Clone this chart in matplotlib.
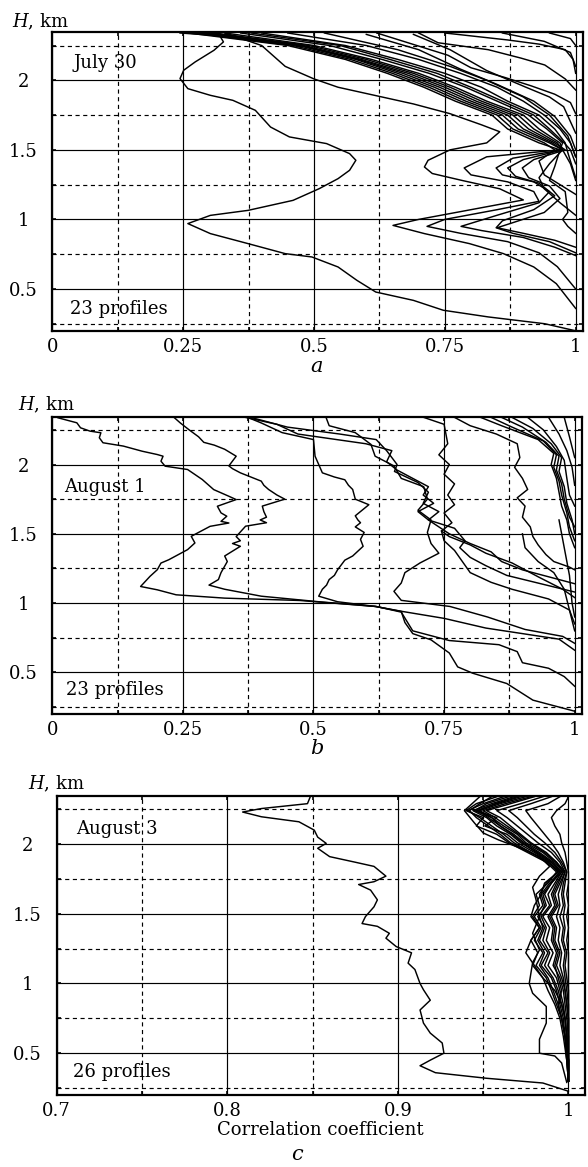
import matplotlib
matplotlib.use("Agg")
import matplotlib.pyplot as plt
import numpy as np

plt.rcParams['font.family'] = ['DejaVu Serif']
plt.rcParams['mathtext.fontset'] = 'custom'
plt.rcParams['mathtext.it'] = 'DejaVu Serif:italic'
plt.rcParams['mathtext.rm'] = 'DejaVu Serif'

# ---------------- Panel a: July 30 (x, H) point lists ----------------
a_x = [
    [.244,.32,.327,.309,.273,.251,.244,.259,.302,.345,.388,.417,.453,.524,.568,.580,.568,.546,.510,.460,.374,.302,.259,.302,.374,.445,.496,.546,.582,.618,.690,.747,.833,.941,.999],
    [0.33,0.40,0.445,0.50,0.546,0.618,0.69,0.76,0.82,0.855,0.83,0.76,0.718,0.711,0.726,0.783,0.855,0.90,0.80,0.70,0.651,0.711,0.797,0.862,0.92,0.963,1.0],
    [0.26,0.45,0.56,0.64,0.71,0.77,0.84,0.87,0.93,0.97,0.83,0.787,0.80,0.87,0.92,0.93,0.85,0.75,0.716,0.78,0.87,0.93,0.965,1.0],
    [0.28,0.47,0.58,0.66,0.73,0.79,0.86,0.89,0.95,0.975,0.88,0.848,0.86,0.92,0.95,0.93,0.85,0.781,0.82,0.90,0.96,1.0],
    [0.30,0.48,0.59,0.68,0.75,0.81,0.88,0.91,0.96,0.98,0.92,0.898,0.91,0.95,0.97,0.94,0.85,0.90,0.96,1.0],
    [0.33,0.50,0.61,0.70,0.77,0.83,0.90,0.93,0.97,0.975,0.95,0.93,0.94,0.97,1.0],
    [0.36,0.53,0.63,0.72,0.79,0.85,0.91,0.945,0.975,0.97,0.96,0.95,0.98,0.985,0.975,0.985,1.0],
    [0.40,0.56,0.66,0.75,0.82,0.87,0.93,0.96,0.98,0.985,1.0],
    [0.45,0.60,0.70,0.78,0.85,0.90,0.94,0.97,0.99,1.0],
    [0.27,0.46,0.57,0.65,0.72,0.78,0.85,0.88,0.94,0.96,0.93,0.94,0.97,1.0],
    [0.31,0.49,0.60,0.69,0.76,0.82,0.89,0.92,0.965,0.975,0.99,1.0],
    [0.38,0.55,0.645,0.735,0.80,0.86,0.92,0.95,0.978,0.99,1.0],
    [0.29,0.475,0.585,0.67,0.74,0.80,0.87,0.90,0.955,0.975,0.90,0.87,0.885,0.93,0.96,0.92,0.86,0.848,0.88,0.95,1.0],
    [0.75,0.87,0.93,0.98,0.995,1.0],
    [0.70,0.737,0.833,0.895,0.941,0.98,1.0],
    [0.62,0.756,0.80,0.865,0.915,0.96,0.99,1.0],
    [0.69,0.76,0.83,0.905,0.95,0.977,1.0],
    [0.60,0.70,0.78,0.85,0.92,0.96,0.99,1.0],
    [0.52,0.66,0.76,0.83,0.90,0.95,0.985,1.0],
    [0.86,0.94,0.99,1.0],
    [0.95,0.99,1.0],
]
a_H = [
    [2.34,2.32,2.276,2.216,2.132,2.072,2.012,1.94,1.892,1.856,1.784,1.664,1.593,1.545,1.473,1.425,1.353,1.293,1.221,1.137,1.065,1.029,0.970,0.898,0.826,0.754,0.730,0.658,0.562,0.478,0.418,0.347,0.299,0.25,0.2],
    [2.34,2.25,2.10,2.01,1.95,1.89,1.83,1.76,1.68,1.63,1.55,1.50,1.425,1.377,1.33,1.28,1.22,1.14,1.07,1.0,0.957,0.898,0.826,0.754,0.658,0.538,0.36],
    [2.34,2.25,2.15,2.05,1.95,1.85,1.75,1.65,1.55,1.50,1.45,1.37,1.32,1.27,1.20,1.13,1.07,1.0,0.95,0.90,0.84,0.76,0.66,0.50],
    [2.34,2.25,2.15,2.05,1.95,1.85,1.75,1.65,1.55,1.50,1.44,1.37,1.32,1.27,1.20,1.12,1.03,0.95,0.92,0.87,0.80,0.74],
    [2.34,2.25,2.15,2.05,1.95,1.85,1.75,1.65,1.55,1.50,1.43,1.37,1.30,1.24,1.15,1.05,0.94,0.90,0.85,0.80],
    [2.34,2.25,2.15,2.05,1.95,1.85,1.75,1.65,1.55,1.50,1.40,1.30,1.22,1.12,1.03],
    [2.34,2.25,2.15,2.05,1.95,1.85,1.75,1.65,1.55,1.50,1.38,1.28,1.20,1.05,1.0,0.95,0.90],
    [2.34,2.25,2.15,2.05,1.95,1.85,1.75,1.65,1.55,1.48,1.30],
    [2.34,2.25,2.15,2.05,1.95,1.85,1.75,1.65,1.55,1.45],
    [2.34,2.25,2.15,2.05,1.95,1.85,1.75,1.65,1.55,1.50,1.42,1.32,1.25,1.18],
    [2.34,2.25,2.15,2.05,1.95,1.85,1.75,1.65,1.55,1.50,1.40,1.28],
    [2.34,2.25,2.15,2.05,1.95,1.85,1.75,1.65,1.55,1.50,1.40],
    [2.34,2.25,2.15,2.05,1.95,1.85,1.75,1.65,1.55,1.50,1.43,1.37,1.31,1.26,1.17,1.07,0.99,0.94,0.90,0.84,0.76],
    [2.34,2.29,2.26,2.22,2.15,2.05],
    [2.34,2.27,2.22,2.16,2.11,2.01,1.93],
    [2.34,2.18,2.09,2.02,1.96,1.90,1.84,1.76],
    [2.33,2.22,2.07,1.95,1.88,1.81,1.62],
    [2.33,2.22,2.08,1.97,1.85,1.74,1.60,1.50],
    [2.34,2.22,2.10,2.00,1.88,1.75,1.60,1.45],
    [2.34,2.28,2.20,2.10],
    [2.34,2.30,2.25],
]

# ---------------- Panel b: August 1 ----------------
b_x = [
    [0.011,0.047,0.054,0.072,0.093,0.090,0.097,0.136,0.172,0.201,0.212,0.208,0.216,0.259,0.287,0.309,0.338,0.352,0.316,0.323,0.334,0.323,0.338,0.302,0.266,0.273,0.259,0.223,0.208,0.201,0.187,0.169,0.201,0.237,0.330,0.474,0.618,0.668,0.675,0.69,0.725,0.76,0.776,0.805,0.87,0.92,1.0],
    [0.233,0.245,0.262,0.28,0.29,0.31,0.33,0.352,0.338,0.345,0.36,0.40,0.405,0.414,0.43,0.445,0.402,0.405,0.41,0.398,0.41,0.37,0.352,0.36,0.345,0.36,0.33,0.335,0.323,0.318,0.30,0.33,0.40,0.51,0.62,0.668,0.69,0.76,0.855,0.89,0.90,0.95,0.98,1.0],
    [0.374,0.40,0.44,0.50,0.503,0.51,0.517,0.54,0.56,0.567,0.575,0.58,0.606,0.58,0.585,0.59,0.58,0.597,0.59,0.595,0.575,0.56,0.546,0.54,0.53,0.525,0.517,0.51,0.546,0.62,0.67,0.75,0.83,0.97,1.0],
    [0.524,0.53,0.58,0.61,0.618,0.654,0.668,0.711,0.718,0.70,0.725,0.718,0.725,0.74,0.704,0.675,0.668,0.654,0.668,0.761,0.833,0.905,0.977,1.0],
    [0.711,0.75,0.757,0.74,0.76,0.75,0.77,0.757,0.77,0.75,0.765,0.745,0.76,0.80,0.83,0.88,0.93,0.977,1.0],
    [0.37,0.43,0.47,0.60,0.65,0.64,0.66,0.69,0.72,0.71,0.73,0.70,0.72,0.74,0.76,0.80,0.84,0.86,0.90,0.96,1.0],
    [0.38,0.45,0.55,0.62,0.64,0.66,0.655,0.70,0.72,0.71,0.74,0.72,0.77,0.79,0.78,0.80,0.83,0.87,1.0],
    [0.77,0.80,0.85,0.89,0.895,0.885,0.90,0.91,0.89,0.905,0.90,0.915,0.92,0.93,0.945,0.96,0.99,1.0],
    [0.82,0.86,0.93,0.96,0.955,0.965,0.97,0.975,0.985,0.99,1.0],
    [0.84,0.88,0.94,0.965,0.96,0.97,0.975,0.985,0.99,1.0],
    [0.86,0.90,0.945,0.97,0.965,0.975,0.98,0.99,1.0],
    [0.88,0.92,0.955,0.975,0.97,0.98,0.985,0.995,1.0],
    [0.91,0.94,0.965,0.98,0.985,0.99,1.0],
    [0.95,0.97,0.985,0.995,1.0],
    [0.98,0.99,1.0],
    [0.745,0.75,0.77,0.785,0.80,0.84,0.88,0.95,0.99,1.0],
    [0.90,0.905,0.93,0.96,0.98,0.99,1.0],
    [0.97,0.98,0.99,0.995,1.0],
]
b_H = [
    [2.337,2.301,2.265,2.241,2.229,2.193,2.157,2.133,2.096,2.072,2.060,2.024,1.988,1.964,1.892,1.819,1.771,1.747,1.699,1.651,1.627,1.590,1.578,1.554,1.482,1.434,1.386,1.313,1.289,1.241,1.193,1.120,1.096,1.060,1.036,1.019,0.976,0.94,0.86,0.78,0.735,0.64,0.54,0.494,0.42,0.30,0.22],
    [2.34,2.30,2.25,2.20,2.16,2.14,2.11,2.06,1.99,1.97,1.94,1.88,1.85,1.82,1.78,1.75,1.70,1.66,1.62,1.60,1.58,1.555,1.48,1.45,1.43,1.41,1.34,1.30,1.22,1.17,1.13,1.10,1.05,1.01,0.976,0.935,0.80,0.73,0.70,0.65,0.57,0.53,0.47,0.40],
    [2.34,2.30,2.23,2.18,2.06,2.00,1.94,1.91,1.89,1.85,1.82,1.75,1.71,1.63,1.60,1.58,1.55,1.51,1.46,1.41,1.34,1.31,1.24,1.20,1.17,1.13,1.10,1.05,1.01,0.975,0.94,0.89,0.82,0.74,0.66],
    [2.34,2.28,2.23,2.145,2.06,1.99,1.90,1.84,1.75,1.67,1.60,1.51,1.43,1.36,1.29,1.22,1.145,1.085,1.02,0.976,0.90,0.81,0.76,0.71],
    [2.34,2.29,2.15,2.07,2.0,1.93,1.86,1.78,1.71,1.65,1.58,1.52,1.48,1.42,1.36,1.29,1.19,1.10,1.04],
    [2.34,2.29,2.22,2.15,2.10,2.02,1.96,1.90,1.84,1.78,1.72,1.66,1.60,1.55,1.50,1.43,1.37,1.30,1.24,1.18,1.14],
    [2.34,2.27,2.22,2.18,2.10,2.0,1.95,1.87,1.80,1.72,1.66,1.60,1.54,1.45,1.40,1.33,1.27,1.20,1.08],
    [2.34,2.28,2.22,2.15,2.05,1.98,1.90,1.82,1.76,1.70,1.62,1.55,1.48,1.42,1.35,1.30,1.26,1.24],
    [2.34,2.28,2.18,2.08,2.0,1.90,1.80,1.70,1.60,1.50,1.40],
    [2.34,2.27,2.17,2.07,1.98,1.88,1.78,1.65,1.55,1.45],
    [2.34,2.27,2.16,2.06,1.96,1.86,1.75,1.62,1.55],
    [2.34,2.26,2.15,2.05,1.95,1.84,1.72,1.60,1.50],
    [2.34,2.25,2.13,2.03,1.90,1.78,1.70],
    [2.34,2.22,2.10,1.98,1.85],
    [2.34,2.20,2.05],
    [1.52,1.45,1.38,1.30,1.22,1.15,1.10,1.03,0.95,0.85],
    [1.50,1.40,1.30,1.22,1.10,0.95,0.80],
    [1.60,1.40,1.20,1.00,0.90],
]

# ---------------- Panel c: August 3 ----------------
c_x = [
    [0.849,0.847,0.82,0.809,0.82,0.842,0.851,0.853,0.858,0.853,0.86,0.875,0.886,0.893,0.886,0.877,0.884,0.888,0.886,0.881,0.879,0.888,0.895,0.893,0.899,0.908,0.906,0.910,0.913,0.915,0.919,0.913,0.915,0.919,0.926,0.927,0.919,0.913,0.922,0.952,0.985,1.0],
    [0.948,0.939,0.945,0.95,0.959,0.97,0.983,0.989,0.983,0.979,0.981,0.983,0.979,0.983,0.979,0.977,0.979,0.987,0.987,0.983,0.983,0.992,0.996,0.999],
]
c_H = [
    [2.35,2.29,2.255,2.23,2.196,2.16,2.10,2.05,2.005,1.97,1.91,1.87,1.84,1.77,1.73,1.71,1.67,1.60,1.55,1.48,1.43,1.41,1.36,1.325,1.265,1.22,1.146,1.10,1.00,0.955,0.88,0.81,0.716,0.644,0.573,0.50,0.45,0.41,0.36,0.32,0.286,0.227],
    [2.34,2.24,2.15,2.08,2.03,1.98,1.91,1.84,1.77,1.69,1.60,1.48,1.36,1.24,1.15,1.0,0.93,0.835,0.716,0.60,0.50,0.48,0.43,0.29],
]
c_bundle_H = [2.34,2.29,2.24,2.19,2.13,2.07,2.01,1.94,1.87,1.80,1.72,1.64,1.56,1.48,1.40,1.31,1.22,1.13,1.04,0.95,0.85,0.75,0.62,0.45,0.30]
c_bundle_x = [
    [0.962,0.950,0.941,0.948,0.955,0.962,0.968,0.978,0.988,0.995,0.990,0.985,0.987,0.982,0.986,0.983,0.988,0.984,0.990,0.993,0.995,0.997,0.998,0.999,1.0],
    [0.968,0.955,0.944,0.952,0.958,0.966,0.972,0.982,0.990,0.996,0.992,0.988,0.990,0.985,0.989,0.987,0.991,0.988,0.993,0.995,0.997,0.998,0.999,1.0,1.0],
    [0.975,0.960,0.948,0.955,0.962,0.970,0.975,0.985,0.992,0.997,0.993,0.990,0.992,0.988,0.991,0.990,0.993,0.991,0.995,0.997,0.998,0.999,1.0,1.0,1.0],
    [0.972,0.958,0.946,0.958,0.951,0.964,0.970,0.980,0.989,0.994,0.987,0.983,0.985,0.980,0.984,0.980,0.985,0.981,0.987,0.990,0.993,0.996,0.998,1.0,1.0],
    [0.980,0.966,0.952,0.960,0.966,0.972,0.978,0.987,0.993,0.998,0.995,0.992,0.994,0.990,0.993,0.992,0.995,0.993,0.996,0.998,0.999,1.0,1.0,1.0,1.0],
    [0.958,0.946,0.940,0.950,0.946,0.958,0.965,0.976,0.987,0.993,0.988,0.981,0.983,0.979,0.983,0.978,0.982,0.979,0.985,0.988,0.992,0.995,0.997,0.999,1.0],
    [0.985,0.972,0.958,0.964,0.970,0.976,0.982,0.990,0.995,0.998,0.996,0.994,0.995,0.993,0.995,0.994,0.996,0.995,0.997,0.998,0.999,1.0,1.0,1.0,1.0],
    [0.965,0.952,0.945,0.955,0.960,0.968,0.974,0.983,0.991,0.996,0.990,0.986,0.989,0.984,0.987,0.985,0.989,0.986,0.991,0.994,0.996,0.998,0.999,1.0,1.0],
    [0.990,0.978,0.965,0.970,0.975,0.980,0.986,0.992,0.996,0.999,0.997,0.996,0.997,0.995,0.997,0.996,0.998,0.997,0.998,0.999,1.0,1.0,1.0,1.0,1.0],
    [0.955,0.948,0.942,0.946,0.953,0.960,0.966,0.978,0.988,0.994,0.986,0.984,0.986,0.983,0.985,0.982,0.986,0.983,0.988,0.991,0.994,0.996,0.998,0.999,1.0],
    [0.995,0.988,0.975,0.978,0.982,0.986,0.990,0.994,0.997,0.999,0.998,0.997,0.998,0.997,0.998,0.997,0.999,0.998,0.999,1.0,1.0,1.0,1.0,1.0,1.0],
    [0.970,0.957,0.947,0.953,0.960,0.967,0.973,0.981,0.990,0.995,0.989,0.984,0.980,0.978,0.983,0.978,0.975,0.980,0.985,0.992,0.996,0.998,0.999,1.0,1.0],
    [1.0,0.998,0.993,0.990,0.992,0.995,0.996,0.998,0.999,1.0,1.0,0.999,1.0,0.999,1.0,0.999,1.0,1.0,1.0,1.0,1.0,1.0,1.0,1.0,1.0],
    [0.978,0.963,0.950,0.957,0.964,0.971,0.977,0.986,0.993,0.997,0.994,0.991,0.993,0.989,0.992,0.991,0.994,0.992,0.994,0.996,0.994,0.996,0.998,1.0,1.0],
]

panel_titles = ["July 30", "August 1", "August 3"]
panel_counts = ["23 profiles", "23 profiles", "26 profiles"]

W, Hpx = 588, 1167
fig = plt.figure(figsize=(W/100, Hpx/100), dpi=100)

def fx(px):
    return px / W
def fy(py):
    return 1 - py / Hpx

boxes = [(52.3, 583, 32.3, 330.7), (52.3, 582, 416.7, 714), (56.7, 585, 796, 1095)]
axes = []
for (l, r, t, b) in boxes:
    axes.append(fig.add_axes([fx(l), fy(b), (r - l)/W, (b - t)/Hpx]))

FS = 13

def style(ax, xlim, xmaj, xmin, xlabels):
    ax.set_xlim(*xlim)
    ax.set_ylim(0.2, 2.345)
    ax.set_xticks(xmaj)
    ax.set_xticklabels(xlabels)
    ax.set_xticks(xmin, minor=True)
    ax.set_yticks([0.5, 1, 1.5, 2])
    ax.set_yticklabels(["0.5", "1", "1.5", "2"])
    ax.set_yticks([0.25, 0.75, 1.25, 1.75, 2.25], minor=True)
    ax.grid(which='major', color='k', lw=0.85, ls='-')
    ax.grid(which='minor', color='k', lw=0.85, ls=(0, (3.5, 3)))
    ax.set_axisbelow(True)
    ax.tick_params(which='both', direction='in', length=3, width=1.2,
                   top=True, right=True, labelsize=FS)
    ax.tick_params(axis='x', which='major', pad=5)
    ax.tick_params(axis='y', which='major', pad=21)
    for lab in ax.get_yticklabels():
        lab.set_horizontalalignment('center')
    for s in ax.spines.values():
        s.set_linewidth(1.6)

style(axes[0], (0, 1.014), [0, 0.25, 0.5, 0.75, 1], [0.125, 0.375, 0.625, 0.875],
      ["0", "0.25", "0.5", "0.75", "1"])
style(axes[1], (0, 1.014), [0, 0.25, 0.5, 0.75, 1], [0.125, 0.375, 0.625, 0.875],
      ["0", "0.25", "0.5", "0.75", "1"])
style(axes[2], (0.7, 1.0097), [0.7, 0.8, 0.9, 1.0], [0.75, 0.85, 0.95],
      ["0.7", "0.8", "0.9", "1"])

lw = 1.05
for xs, hs in zip(a_x, a_H):
    axes[0].plot(xs, hs, color='k', lw=lw)
for xs, hs in zip(b_x, b_H):
    axes[1].plot(xs, hs, color='k', lw=lw)
for xs, hs in zip(c_x, c_H):
    axes[2].plot(xs, hs, color='k', lw=lw)
for xs in c_bundle_x:
    axes[2].plot(xs, c_bundle_H, color='k', lw=lw)

title_pos = [(74, 63), (64, 487), (76, 829)]
count_pos = [(70, 309), (66, 690), (73, 1072)]
for i in range(3):
    fig.text(fx(title_pos[i][0]), fy(title_pos[i][1]), panel_titles[i],
             fontsize=FS, ha='left', va='center')
    fig.text(fx(count_pos[i][0]), fy(count_pos[i][1]), panel_counts[i],
             fontsize=FS, ha='left', va='center')

hkm_pos = [(12, 22), (18, 405), (28, 784)]
for (px, py) in hkm_pos:
    fig.text(fx(px), fy(py), "$H$, km", fontsize=FS, ha='left', va='center')

fig.text(fx(317), fy(367), "$a$", fontsize=15, ha='center', va='center')
fig.text(fx(317), fy(748), "$b$", fontsize=15, ha='center', va='center')
fig.text(fx(320), fy(1130), "Correlation coefficient", fontsize=FS, ha='center', va='center')
fig.text(fx(298), fy(1155), "$c$", fontsize=15, ha='center', va='center')

fig.savefig("out.png", dpi=100)
